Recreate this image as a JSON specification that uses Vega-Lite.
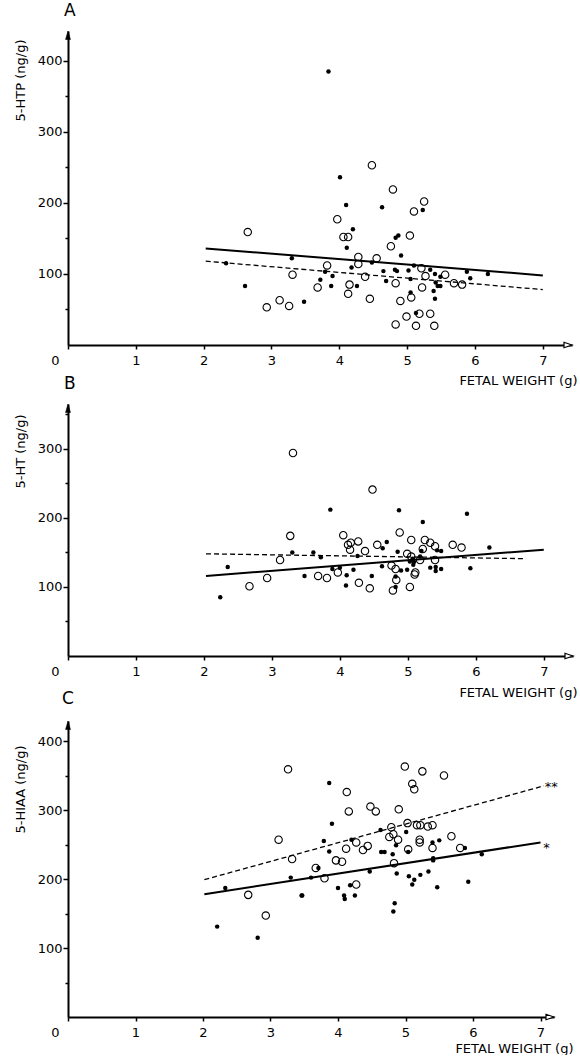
{
  "$schema": "https://vega.github.io/schema/vega-lite/v6.json",
  "autosize": {"type": "pad"},
  "padding": {"left": 14, "top": 2, "right": 0, "bottom": 0},
  "background": "white",
  "bounds": "flush",
  "spacing": 59,
  "config": {
    "view": {"stroke": null},
    "font": "DejaVu Sans",
    "axis": {"domainColor": "#000", "domainWidth": 2, "tickColor": "#000", "tickWidth": 1.5, "labelColor": "#000", "titleColor": "#000", "labelFont": "DejaVu Sans", "titleFont": "DejaVu Sans", "labelFontSize": 13, "titleFontSize": 13, "titleFontWeight": "normal", "grid": false, "tickSize": 4},
    "title": {"font": "DejaVu Sans", "fontSize": 17, "fontWeight": "normal", "anchor": "start", "frame": "group", "color": "#000"}
  },
  "datasets": {
    "ptsA": [
      {"x": 2.65, "y": 159, "g": "open"}, {"x": 2.93, "y": 53, "g": "open"}, {"x": 3.12, "y": 63, "g": "open"}, {"x": 3.26, "y": 55, "g": "open"}, {"x": 3.31, "y": 99, "g": "open"}, {"x": 4.48, "y": 253, "g": "open"}, {"x": 4.79, "y": 219, "g": "open"}, {"x": 5.25, "y": 202, "g": "open"}, {"x": 5.10, "y": 188, "g": "open"}, {"x": 3.97, "y": 177, "g": "open"}, {"x": 4.06, "y": 152, "g": "open"}, {"x": 4.13, "y": 152, "g": "open"}, {"x": 5.04, "y": 154, "g": "open"}, {"x": 4.76, "y": 139, "g": "open"}, {"x": 4.28, "y": 124, "g": "open"}, {"x": 4.55, "y": 122, "g": "open"}, {"x": 4.28, "y": 114, "g": "open"}, {"x": 3.82, "y": 112, "g": "open"}, {"x": 5.21, "y": 108, "g": "open"}, {"x": 5.56, "y": 99, "g": "open"}, {"x": 5.27, "y": 97, "g": "open"}, {"x": 4.38, "y": 96, "g": "open"}, {"x": 4.83, "y": 87, "g": "open"}, {"x": 5.69, "y": 87, "g": "open"}, {"x": 5.81, "y": 85, "g": "open"}, {"x": 4.15, "y": 85, "g": "open"}, {"x": 3.68, "y": 81, "g": "open"}, {"x": 5.22, "y": 81, "g": "open"}, {"x": 4.13, "y": 72, "g": "open"}, {"x": 5.06, "y": 67, "g": "open"}, {"x": 4.45, "y": 65, "g": "open"}, {"x": 4.90, "y": 62, "g": "open"}, {"x": 5.18, "y": 44, "g": "open"}, {"x": 5.34, "y": 44, "g": "open"}, {"x": 4.99, "y": 40, "g": "open"}, {"x": 4.83, "y": 29, "g": "open"}, {"x": 5.13, "y": 27, "g": "open"}, {"x": 5.40, "y": 27, "g": "open"},
      {"x": 2.33, "y": 115, "g": "filled"}, {"x": 2.61, "y": 83, "g": "filled"}, {"x": 3.30, "y": 122, "g": "filled"}, {"x": 3.84, "y": 385, "g": "filled"}, {"x": 4.01, "y": 236, "g": "filled"}, {"x": 5.23, "y": 190, "g": "filled"}, {"x": 4.10, "y": 197, "g": "filled"}, {"x": 4.63, "y": 194, "g": "filled"}, {"x": 4.20, "y": 163, "g": "filled"}, {"x": 4.83, "y": 151, "g": "filled"}, {"x": 4.87, "y": 154, "g": "filled"}, {"x": 4.11, "y": 137, "g": "filled"}, {"x": 4.91, "y": 126, "g": "filled"}, {"x": 4.48, "y": 116, "g": "filled"}, {"x": 4.18, "y": 109, "g": "filled"}, {"x": 5.10, "y": 112, "g": "filled"}, {"x": 5.34, "y": 106, "g": "filled"}, {"x": 4.82, "y": 106, "g": "filled"}, {"x": 4.85, "y": 104, "g": "filled"}, {"x": 4.65, "y": 104, "g": "filled"}, {"x": 5.02, "y": 105, "g": "filled"}, {"x": 5.41, "y": 100, "g": "filled"}, {"x": 5.49, "y": 96, "g": "filled"}, {"x": 5.88, "y": 103, "g": "filled"}, {"x": 6.19, "y": 100, "g": "filled"}, {"x": 5.93, "y": 94, "g": "filled"}, {"x": 3.79, "y": 103, "g": "filled"}, {"x": 3.90, "y": 97, "g": "filled"}, {"x": 3.72, "y": 92, "g": "filled"}, {"x": 4.69, "y": 90, "g": "filled"}, {"x": 5.05, "y": 93, "g": "filled"}, {"x": 5.42, "y": 88, "g": "filled"}, {"x": 5.45, "y": 83, "g": "filled"}, {"x": 5.49, "y": 83, "g": "filled"}, {"x": 3.88, "y": 83, "g": "filled"}, {"x": 4.26, "y": 83, "g": "filled"}, {"x": 5.39, "y": 76, "g": "filled"}, {"x": 5.05, "y": 74, "g": "filled"}, {"x": 5.41, "y": 65, "g": "filled"}, {"x": 3.48, "y": 61, "g": "filled"}, {"x": 5.13, "y": 45, "g": "filled"}
    ],
    "ptsB": [
      {"x": 3.31, "y": 294, "g": "open"}, {"x": 3.27, "y": 174, "g": "open"}, {"x": 3.12, "y": 139, "g": "open"}, {"x": 2.93, "y": 113, "g": "open"}, {"x": 2.67, "y": 101, "g": "open"}, {"x": 4.48, "y": 241, "g": "open"}, {"x": 4.88, "y": 179, "g": "open"}, {"x": 4.05, "y": 175, "g": "open"}, {"x": 4.27, "y": 166, "g": "open"}, {"x": 5.05, "y": 168, "g": "open"}, {"x": 5.25, "y": 168, "g": "open"}, {"x": 5.33, "y": 164, "g": "open"}, {"x": 4.55, "y": 161, "g": "open"}, {"x": 4.12, "y": 161, "g": "open"}, {"x": 4.16, "y": 164, "g": "open"}, {"x": 5.66, "y": 161, "g": "open"}, {"x": 5.79, "y": 157, "g": "open"}, {"x": 5.40, "y": 159, "g": "open"}, {"x": 4.15, "y": 154, "g": "open"}, {"x": 4.37, "y": 152, "g": "open"}, {"x": 5.22, "y": 155, "g": "open"}, {"x": 4.99, "y": 148, "g": "open"}, {"x": 5.05, "y": 144, "g": "open"}, {"x": 5.18, "y": 139, "g": "open"}, {"x": 5.40, "y": 139, "g": "open"}, {"x": 3.97, "y": 121, "g": "open"}, {"x": 4.76, "y": 131, "g": "open"}, {"x": 4.82, "y": 126, "g": "open"}, {"x": 5.11, "y": 121, "g": "open"}, {"x": 5.10, "y": 118, "g": "open"}, {"x": 4.83, "y": 110, "g": "open"}, {"x": 3.68, "y": 116, "g": "open"}, {"x": 3.81, "y": 113, "g": "open"}, {"x": 4.28, "y": 106, "g": "open"}, {"x": 4.44, "y": 98, "g": "open"}, {"x": 4.78, "y": 95, "g": "open"}, {"x": 5.03, "y": 100, "g": "open"},
      {"x": 3.30, "y": 150, "g": "filled"}, {"x": 2.35, "y": 129, "g": "filled"}, {"x": 2.24, "y": 85, "g": "filled"}, {"x": 3.86, "y": 212, "g": "filled"}, {"x": 4.87, "y": 211, "g": "filled"}, {"x": 5.87, "y": 206, "g": "filled"}, {"x": 5.22, "y": 194, "g": "filled"}, {"x": 4.69, "y": 165, "g": "filled"}, {"x": 6.20, "y": 157, "g": "filled"}, {"x": 4.63, "y": 156, "g": "filled"}, {"x": 5.43, "y": 153, "g": "filled"}, {"x": 5.49, "y": 152, "g": "filled"}, {"x": 5.20, "y": 152, "g": "filled"}, {"x": 4.85, "y": 151, "g": "filled"}, {"x": 4.26, "y": 145, "g": "filled"}, {"x": 3.61, "y": 150, "g": "filled"}, {"x": 3.72, "y": 143, "g": "filled"}, {"x": 5.07, "y": 141, "g": "filled"}, {"x": 5.09, "y": 136, "g": "filled"}, {"x": 5.18, "y": 144, "g": "filled"}, {"x": 5.33, "y": 128, "g": "filled"}, {"x": 5.41, "y": 123, "g": "filled"}, {"x": 5.49, "y": 126, "g": "filled"}, {"x": 5.41, "y": 129, "g": "filled"}, {"x": 5.92, "y": 127, "g": "filled"}, {"x": 4.62, "y": 130, "g": "filled"}, {"x": 3.89, "y": 126, "g": "filled"}, {"x": 4.00, "y": 128, "g": "filled"}, {"x": 4.20, "y": 125, "g": "filled"}, {"x": 4.90, "y": 124, "g": "filled"}, {"x": 4.99, "y": 125, "g": "filled"}, {"x": 5.03, "y": 137, "g": "filled"}, {"x": 5.08, "y": 132, "g": "filled"}, {"x": 4.82, "y": 115, "g": "filled"}, {"x": 3.48, "y": 116, "g": "filled"}, {"x": 4.10, "y": 117, "g": "filled"}, {"x": 4.47, "y": 116, "g": "filled"}, {"x": 4.09, "y": 102, "g": "filled"}, {"x": 4.82, "y": 100, "g": "filled"}
    ],
    "ptsC": [
      {"x": 3.26, "y": 359, "g": "open"}, {"x": 3.12, "y": 257, "g": "open"}, {"x": 3.32, "y": 229, "g": "open"}, {"x": 2.67, "y": 177, "g": "open"}, {"x": 2.93, "y": 147, "g": "open"}, {"x": 4.99, "y": 363, "g": "open"}, {"x": 5.25, "y": 356, "g": "open"}, {"x": 5.57, "y": 350, "g": "open"}, {"x": 5.10, "y": 338, "g": "open"}, {"x": 5.13, "y": 330, "g": "open"}, {"x": 4.13, "y": 326, "g": "open"}, {"x": 4.48, "y": 305, "g": "open"}, {"x": 4.56, "y": 298, "g": "open"}, {"x": 4.90, "y": 301, "g": "open"}, {"x": 4.16, "y": 298, "g": "open"}, {"x": 5.03, "y": 281, "g": "open"}, {"x": 5.17, "y": 278, "g": "open"}, {"x": 5.22, "y": 278, "g": "open"}, {"x": 5.33, "y": 276, "g": "open"}, {"x": 5.40, "y": 278, "g": "open"}, {"x": 4.79, "y": 275, "g": "open"}, {"x": 4.82, "y": 265, "g": "open"}, {"x": 4.76, "y": 261, "g": "open"}, {"x": 5.68, "y": 262, "g": "open"}, {"x": 4.89, "y": 257, "g": "open"}, {"x": 5.21, "y": 257, "g": "open"}, {"x": 5.21, "y": 253, "g": "open"}, {"x": 4.27, "y": 253, "g": "open"}, {"x": 5.40, "y": 245, "g": "open"}, {"x": 5.81, "y": 245, "g": "open"}, {"x": 5.04, "y": 243, "g": "open"}, {"x": 4.44, "y": 248, "g": "open"}, {"x": 4.37, "y": 242, "g": "open"}, {"x": 4.12, "y": 244, "g": "open"}, {"x": 3.97, "y": 227, "g": "open"}, {"x": 4.06, "y": 225, "g": "open"}, {"x": 3.67, "y": 216, "g": "open"}, {"x": 4.83, "y": 223, "g": "open"}, {"x": 3.80, "y": 201, "g": "open"}, {"x": 4.27, "y": 192, "g": "open"},
      {"x": 3.30, "y": 202, "g": "filled"}, {"x": 2.33, "y": 187, "g": "filled"}, {"x": 3.46, "y": 176, "g": "filled"}, {"x": 2.21, "y": 131, "g": "filled"}, {"x": 2.81, "y": 115, "g": "filled"}, {"x": 3.87, "y": 339, "g": "filled"}, {"x": 3.91, "y": 280, "g": "filled"}, {"x": 4.63, "y": 271, "g": "filled"}, {"x": 5.01, "y": 268, "g": "filled"}, {"x": 4.86, "y": 249, "g": "filled"}, {"x": 3.79, "y": 255, "g": "filled"}, {"x": 4.20, "y": 257, "g": "filled"}, {"x": 5.40, "y": 253, "g": "filled"}, {"x": 5.50, "y": 256, "g": "filled"}, {"x": 5.88, "y": 245, "g": "filled"}, {"x": 3.87, "y": 240, "g": "filled"}, {"x": 4.64, "y": 239, "g": "filled"}, {"x": 4.69, "y": 239, "g": "filled"}, {"x": 4.81, "y": 236, "g": "filled"}, {"x": 5.04, "y": 239, "g": "filled"}, {"x": 5.41, "y": 230, "g": "filled"}, {"x": 5.41, "y": 227, "g": "filled"}, {"x": 6.13, "y": 236, "g": "filled"}, {"x": 3.71, "y": 216, "g": "filled"}, {"x": 4.47, "y": 211, "g": "filled"}, {"x": 3.60, "y": 202, "g": "filled"}, {"x": 4.87, "y": 208, "g": "filled"}, {"x": 5.05, "y": 204, "g": "filled"}, {"x": 5.13, "y": 199, "g": "filled"}, {"x": 5.10, "y": 192, "g": "filled"}, {"x": 5.22, "y": 206, "g": "filled"}, {"x": 5.34, "y": 211, "g": "filled"}, {"x": 5.93, "y": 196, "g": "filled"}, {"x": 5.47, "y": 188, "g": "filled"}, {"x": 4.00, "y": 187, "g": "filled"}, {"x": 4.18, "y": 191, "g": "filled"}, {"x": 3.47, "y": 176, "g": "filled"}, {"x": 4.09, "y": 176, "g": "filled"}, {"x": 4.10, "y": 171, "g": "filled"}, {"x": 4.25, "y": 176, "g": "filled"}, {"x": 4.84, "y": 165, "g": "filled"}, {"x": 4.82, "y": 153, "g": "filled"}
    ],
    "linesA": [
      {"x": 2.03, "y": 136, "g": "solid"}, {"x": 7.0, "y": 98, "g": "solid"},
      {"x": 2.03, "y": 118, "g": "dashed"}, {"x": 7.0, "y": 78, "g": "dashed"}
    ],
    "linesB": [
      {"x": 2.03, "y": 116, "g": "solid"}, {"x": 7.0, "y": 154, "g": "solid"},
      {"x": 2.03, "y": 148, "g": "dashed"}, {"x": 6.7, "y": 141, "g": "dashed"}
    ],
    "linesC": [
      {"x": 2.02, "y": 178, "g": "solid"}, {"x": 7.0, "y": 253, "g": "solid"},
      {"x": 2.02, "y": 199, "g": "dashed"}, {"x": 7.05, "y": 335, "g": "dashed"}
    ],
    "starsC": [
      {"x": 7.16, "y": 339, "t": "**"}, {"x": 7.09, "y": 251, "t": "*"}
    ]
  },
  "vconcat": [
    {
      "width": 504, "height": 314,
      "title": {"text": "A", "offset": 10, "dx": -4},
      "encoding": {
        "x": {"field": "x", "type": "quantitative", "scale": {"domain": [0, 7.43], "nice": false, "zero": false},
          "axis": {"values": [0, 1, 2, 3, 4, 5, 6, 7], "title": "FETAL WEIGHT (g)", "titleAlign": "right", "titleX": 509, "titleY": 35, "titleBaseline": "middle", "labelFlush": false, "labelPadding": 5, "labelOffset": {"condition": {"test": "datum.value == 0", "value": -13}, "value": 0}}},
        "y": {"field": "y", "type": "quantitative", "scale": {"domain": [0, 442], "nice": false},
          "axis": {"values": [50, 100, 150, 200, 250, 300, 350, 400], "labelExpr": "datum.value % 100 == 0 ? datum.label : ''", "title": "5-HTP (ng/g)", "titleX": -48, "titleY": 49, "titleBaseline": "middle", "titleAlign": "center", "titleAngle": 270, "labelPadding": 1, "tickSize": {"condition": {"test": "datum.value % 100 != 0", "value": 3}, "value": 5}}}
      },
      "layer": [
        {"data": {"name": "ptsA"}, "transform": [{"filter": "datum.g == 'open'"}], "mark": {"type": "point", "shape": "circle", "filled": false, "stroke": "#000", "strokeWidth": 1.1, "size": 55, "opacity": 1}},
        {"data": {"name": "ptsA"}, "transform": [{"filter": "datum.g == 'filled'"}], "mark": {"type": "point", "shape": "circle", "filled": true, "fill": "#000", "size": 20, "opacity": 1}},
        {"data": {"name": "linesA"}, "transform": [{"filter": "datum.g == 'solid'"}], "mark": {"type": "line", "color": "#000", "strokeWidth": 2}},
        {"data": {"name": "linesA"}, "transform": [{"filter": "datum.g == 'dashed'"}], "mark": {"type": "line", "color": "#000", "strokeWidth": 1.3, "strokeDash": [5, 3]}},
        {"data": {"values": [{"x": 0, "y": 442}]}, "mark": {"type": "point", "shape": "M0,0L0.5,1.7L-0.5,1.7Z", "filled": true, "fill": "#000", "stroke": "#000", "strokeWidth": 0.5, "size": 100, "opacity": 1}},
        {"data": {"values": [{"x": 7.43, "y": 0}]}, "mark": {"type": "point", "shape": "M0,0L-1.6,-0.55L-1.6,0.55Z", "filled": true, "fill": "#fff", "stroke": "#000", "strokeWidth": 1.2, "size": 100, "opacity": 1}}
      ]
    },
    {
      "bounds": "flush",
      "spacing": 65,
      "vconcat": [
        {
          "width": 505, "height": 252,
          "title": {"text": "B", "offset": 10, "dx": -4},
          "encoding": {
            "x": {"field": "x", "type": "quantitative", "scale": {"domain": [0, 7.43], "nice": false, "zero": false},
              "axis": {"values": [0, 1, 2, 3, 4, 5, 6, 7], "title": "FETAL WEIGHT (g)", "titleAlign": "right", "titleX": 509, "titleY": 36, "titleBaseline": "middle", "labelFlush": false, "labelPadding": 5, "labelOffset": {"condition": {"test": "datum.value == 0", "value": -13}, "value": 0}}},
            "y": {"field": "y", "type": "quantitative", "scale": {"domain": [0, 365], "nice": false},
              "axis": {"values": [50, 100, 150, 200, 250, 300, 350], "labelExpr": "datum.value % 100 == 0 ? datum.label : ''", "title": "5-HT (ng/g)", "titleX": -48, "titleY": 47, "titleBaseline": "middle", "titleAlign": "center", "titleAngle": 270, "labelPadding": 1, "tickSize": {"condition": {"test": "datum.value % 100 != 0", "value": 3}, "value": 5}}}
          },
          "layer": [
            {"data": {"name": "ptsB"}, "transform": [{"filter": "datum.g == 'open'"}], "mark": {"type": "point", "shape": "circle", "filled": false, "stroke": "#000", "strokeWidth": 1.1, "size": 55, "opacity": 1}},
            {"data": {"name": "ptsB"}, "transform": [{"filter": "datum.g == 'filled'"}], "mark": {"type": "point", "shape": "circle", "filled": true, "fill": "#000", "size": 20, "opacity": 1}},
            {"data": {"name": "linesB"}, "transform": [{"filter": "datum.g == 'solid'"}], "mark": {"type": "line", "color": "#000", "strokeWidth": 2}},
            {"data": {"name": "linesB"}, "transform": [{"filter": "datum.g == 'dashed'"}], "mark": {"type": "line", "color": "#000", "strokeWidth": 1.3, "strokeDash": [5, 3]}},
            {"data": {"values": [{"x": 0, "y": 365}]}, "mark": {"type": "point", "shape": "M0,0L0.5,1.7L-0.5,1.7Z", "filled": true, "fill": "#000", "stroke": "#000", "strokeWidth": 0.5, "size": 100, "opacity": 1}},
            {"data": {"values": [{"x": 7.43, "y": 0}]}, "mark": {"type": "point", "shape": "M0,0L-1.6,-0.55L-1.6,0.55Z", "filled": true, "fill": "#fff", "stroke": "#000", "strokeWidth": 1.2, "size": 100, "opacity": 1}}
          ]
        },
        {
          "width": 486, "height": 296,
          "title": {"text": "C", "offset": 12, "dx": -6},
          "encoding": {
            "x": {"field": "x", "type": "quantitative", "scale": {"domain": [0, 7.2], "nice": false, "zero": false},
              "axis": {"values": [0, 1, 2, 3, 4, 5, 6, 7], "title": "FETAL WEIGHT (g)", "titleAlign": "right", "titleX": 505, "titleY": 31, "titleBaseline": "middle", "labelFlush": false, "labelPadding": 5, "labelOffset": {"condition": {"test": "datum.value == 0", "value": -13}, "value": 0}}},
            "y": {"field": "y", "type": "quantitative", "scale": {"domain": [0, 429], "nice": false},
              "axis": {"values": [50, 100, 150, 200, 250, 300, 350, 400], "labelExpr": "datum.value % 100 == 0 ? datum.label : ''", "title": "5-HIAA  (ng/g)", "titleX": -48, "titleY": 68, "titleBaseline": "middle", "titleAlign": "center", "titleAngle": 270, "labelPadding": 1, "tickSize": {"condition": {"test": "datum.value % 100 != 0", "value": 3}, "value": 5}}}
          },
          "layer": [
            {"data": {"name": "ptsC"}, "transform": [{"filter": "datum.g == 'open'"}], "mark": {"type": "point", "shape": "circle", "filled": false, "stroke": "#000", "strokeWidth": 1.1, "size": 55, "opacity": 1}},
            {"data": {"name": "ptsC"}, "transform": [{"filter": "datum.g == 'filled'"}], "mark": {"type": "point", "shape": "circle", "filled": true, "fill": "#000", "size": 20, "opacity": 1}},
            {"data": {"name": "linesC"}, "transform": [{"filter": "datum.g == 'solid'"}], "mark": {"type": "line", "color": "#000", "strokeWidth": 2}},
            {"data": {"name": "linesC"}, "transform": [{"filter": "datum.g == 'dashed'"}], "mark": {"type": "line", "color": "#000", "strokeWidth": 1.3, "strokeDash": [5, 3]}},
            {"data": {"name": "starsC"}, "mark": {"type": "text", "fontSize": 13, "align": "center", "baseline": "middle", "dy": 4, "color": "#000"}, "encoding": {"text": {"field": "t"}}},
            {"data": {"values": [{"x": 0, "y": 429}]}, "mark": {"type": "point", "shape": "M0,0L0.5,1.7L-0.5,1.7Z", "filled": true, "fill": "#000", "stroke": "#000", "strokeWidth": 0.5, "size": 100, "opacity": 1}},
            {"data": {"values": [{"x": 7.2, "y": 0}]}, "mark": {"type": "point", "shape": "M0,0L-1.6,-0.55L-1.6,0.55Z", "filled": true, "fill": "#fff", "stroke": "#000", "strokeWidth": 1.2, "size": 100, "opacity": 1}}
          ]
        }
      ]
    }
  ]
}
